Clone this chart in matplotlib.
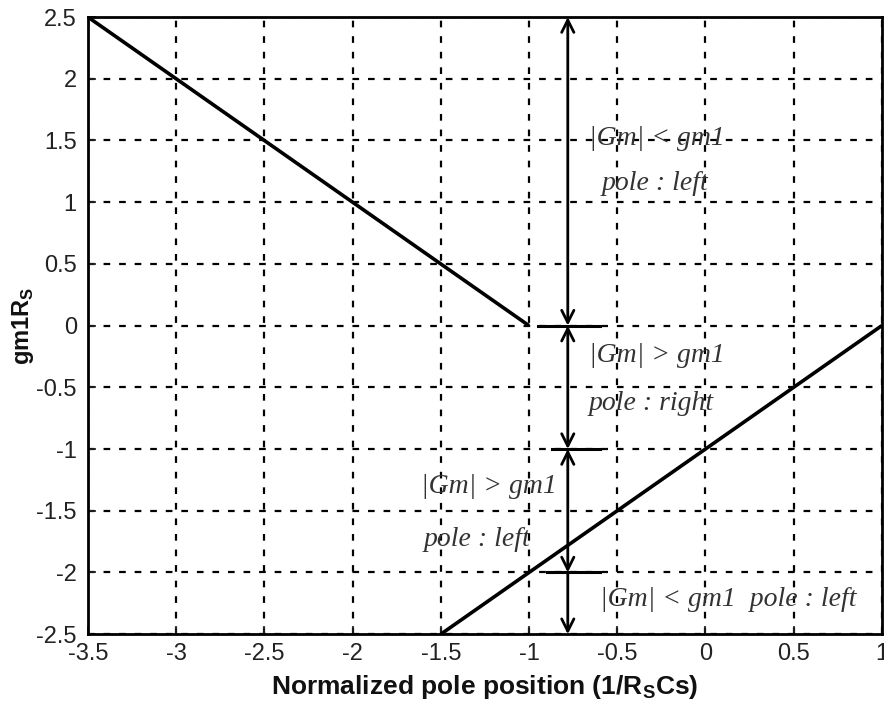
import matplotlib
matplotlib.use("Agg")
import matplotlib.pyplot as plt

# data
line1_x = [-3.5, -1.0]
line1_y = [2.5, 0.0]
line2_x = [-1.5, 1.0]
line2_y = [-2.5, 0.0]
xticks = [-3.5, -3, -2.5, -2, -1.5, -1, -0.5, 0, 0.5, 1]
yticks = [2.5, 2, 1.5, 1, 0.5, 0, -0.5, -1, -1.5, -2, -2.5]
xtick_labels = ["-3.5", "-3", "-2.5", "-2", "-1.5", "-1", "-0.5", "0", "0.5", "1"]
ytick_labels = ["2.5", "2", "1.5", "1", "0.5", "0", "-0.5", "-1", "-1.5", "-2", "-2.5"]
arrow_x = -0.78
region_bounds = [(2.5, 0.0), (0.0, -1.0), (-1.0, -2.0)]
divider_y = [0.0, -1.0, -2.0]
divider_x0 = [-0.95, -0.87, -0.9]
divider_x1 = -0.6

fig = plt.figure(figsize=(8.84, 7.11), dpi=100)
ax = fig.add_axes([0.0995, 0.108, 0.898, 0.868])

ax.plot(line1_x, line1_y, color="black", lw=2.6, solid_capstyle="butt")
ax.plot(line2_x, line2_y, color="black", lw=2.6, solid_capstyle="butt")

ax.set_xlim(-3.5, 1)
ax.set_ylim(-2.5, 2.5)
ax.set_xticks(xticks)
ax.set_xticklabels(xtick_labels)
ax.set_yticks(yticks)
ax.set_yticklabels(ytick_labels)
ax.tick_params(direction="in", length=6, width=1.2, labelsize=17, colors="#222222")
ax.tick_params(axis="x", pad=6)
ax.tick_params(axis="y", pad=8)
for lab in ax.get_xticklabels() + ax.get_yticklabels():
    lab.set_fontfamily("Liberation Sans")
ax.grid(True, color="black", linestyle=(0, (3, 4)), lw=1.6)
for s in ax.spines.values():
    s.set_linewidth(2)

ax.set_xlabel("Normalized pole position (1/R$_\\mathregular{S}$Cs)", fontsize=19,
              fontweight="bold", fontfamily="Liberation Sans", color="#111111", labelpad=6)
ax.set_ylabel("gm1R$_\\mathregular{S}$", fontsize=17, fontweight="bold",
              fontfamily="Liberation Sans", color="#111111")
ax.yaxis.set_label_coords(-0.066, 0.5)

# arrows
for top, bot in region_bounds:
    ax.annotate("", xy=(arrow_x, bot), xytext=(arrow_x, top),
                arrowprops=dict(arrowstyle="<->", lw=2, color="black",
                                mutation_scale=22, shrinkA=0, shrinkB=0))
ax.annotate("", xy=(arrow_x, -2.5), xytext=(arrow_x, -2.0),
            arrowprops=dict(arrowstyle="->", lw=2, color="black",
                            mutation_scale=22, shrinkA=0, shrinkB=0))
for y, x0 in zip(divider_y, divider_x0):
    ax.plot([x0, divider_x1], [y, y], color="black", lw=2.2)

tfont = dict(fontfamily="Liberation Serif", style="italic", fontsize=20,
             color="#333333", va="center", ha="left")
ax.text(-0.66, 1.52, "|Gm| < gm1", **tfont)
ax.text(-0.59, 1.15, "pole : left", **tfont)
ax.text(-0.66, -0.24, "|Gm| > gm1", **tfont)
ax.text(-0.66, -0.63, "pole : right", **tfont)
ax.text(-1.61, -1.30, "|Gm| > gm1", **tfont)
ax.text(-1.6, -1.73, "pole : left", **tfont)
ax.text(-0.6, -2.22, "|Gm| < gm1  pole : left", **tfont)

fig.savefig("out.png", dpi=100)
